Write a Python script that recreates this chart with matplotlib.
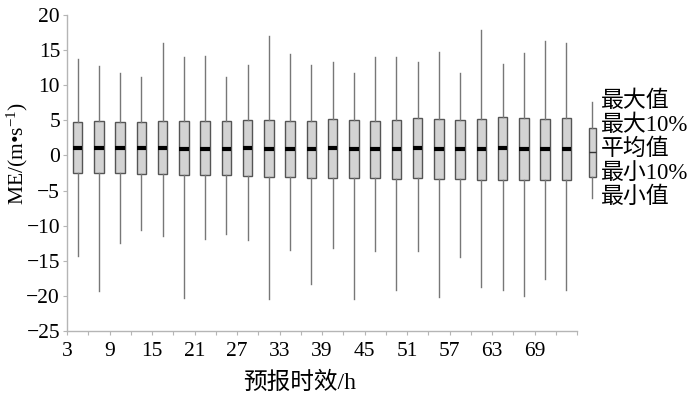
import matplotlib
matplotlib.use("Agg")
import matplotlib.pyplot as plt
import numpy as np

# ---- data ----
lead_hours = [3, 6, 9, 12, 15, 18, 21, 24, 27, 30, 33, 36, 39, 42, 45, 48, 51, 54, 57, 60, 63, 66, 69, 72]
tick_labels = ["3", "9", "15", "21", "27", "33", "39", "45", "51", "57", "63", "69"]
max_vals = [13.8, 12.7, 11.8, 11.1, 16.0, 14.0, 14.1, 11.1, 12.9, 17.0, 14.5, 12.9,
            13.3, 11.7, 14.0, 14.0, 13.3, 14.7, 11.8, 17.8, 13.0, 14.6, 16.3, 16.0]
top10_vals = [4.7, 4.85, 4.7, 4.7, 4.9, 4.85, 4.85, 4.85, 5.0, 5.0, 4.85, 4.85,
              5.15, 5.05, 4.9, 5.0, 5.3, 5.25, 5.0, 5.15, 5.45, 5.35, 5.2, 5.3]
mean_vals = [1.05, 1.05, 1.05, 1.0, 1.1, 0.95, 0.95, 0.95, 1.1, 0.9, 0.9, 0.85,
             1.05, 0.95, 0.95, 0.95, 1.05, 0.95, 0.9, 0.95, 1.05, 0.95, 0.95, 0.95]
bot10_vals = [-2.55, -2.55, -2.55, -2.6, -2.7, -2.75, -2.75, -2.85, -2.9, -3.05, -3.05, -3.2,
              -3.15, -3.25, -3.2, -3.3, -3.25, -3.4, -3.4, -3.45, -3.45, -3.55, -3.55, -3.55]
min_vals = [-14.3, -19.3, -12.5, -10.6, -11.5, -20.3, -11.9, -11.2, -12.1, -20.4, -13.5, -18.3,
            -13.2, -20.4, -13.6, -19.1, -13.6, -20.2, -14.5, -18.8, -19.1, -20.0, -17.6, -19.2]
legend_labels = ["最大值", "最大10%", "平均值", "最小10%", "最小值"]
legend_glyph = dict(whishi=98.3, q3=71.7, med=48.3, q1=23.3, whislo=1.7)

fam = ["Liberation Serif", "Noto Sans CJK SC"]
plt.rcParams["font.family"] = fam
plt.rcParams["mathtext.fontset"] = "custom"
plt.rcParams["mathtext.rm"] = "Liberation Serif"
plt.rcParams["mathtext.it"] = "Liberation Serif:italic"

W, H = 700, 401
fig = plt.figure(figsize=(7.0, 4.01), dpi=100)
ax = fig.add_axes([67 / W, 1 - 331 / H, 510 / W, 316 / H])

stats = []
for lo, q1, m, q3, hi in zip(min_vals, bot10_vals, mean_vals, top10_vals, max_vals):
    stats.append(dict(whislo=lo, q1=q1, med=m, q3=q3, whishi=hi, fliers=[]))
positions = np.arange(len(lead_hours)) + 0.5

gray_box = "#d3d3d3"
edge = "#555555"
whisk = "#777777"
ax.bxp(stats, positions=positions, widths=0.45, patch_artist=True, showcaps=False,
       showfliers=False,
       boxprops=dict(facecolor=gray_box, edgecolor=edge, linewidth=1.0),
       whiskerprops=dict(color=whisk, linewidth=1.0),
       medianprops=dict(color="black", linewidth=3.0, solid_capstyle="butt"))

ax.set_xlim(0, len(lead_hours))
ax.set_ylim(-25, 20)
ax.set_yticks(np.arange(-25, 21, 5))
xt = np.arange(0, len(lead_hours) + 1)
ax.set_xticks(xt)
labs = []
for i in xt:
    if i % 2 == 0 and i // 2 < len(tick_labels):
        labs.append(tick_labels[i // 2])
    else:
        labs.append("")
ax.set_xticklabels(labs)

for s in ["top", "right"]:
    ax.spines[s].set_visible(False)
for s in ["left", "bottom"]:
    ax.spines[s].set_color("#b5b5b5")
    ax.spines[s].set_linewidth(1.0)
ax.tick_params(axis="both", direction="out", length=3, width=0.8, color="#b5b5b5",
               labelsize=15.5, labelcolor="black")
ax.tick_params(axis="y", pad=2)
ax.tick_params(axis="x", pad=5)

ax.set_ylabel("ME/(m\u2022s$^{-1}$)", fontsize=15.5)
ax.yaxis.set_label_coords(-(67 - 17) / 510, (331 - 154) / 316)
ax.yaxis.label.set_va("center")
ax.set_xlabel("预报时效/h", fontsize=17)
ax.xaxis.set_label_coords((300 - 67) / 510, -(383 - 331) / 316)
ax.xaxis.label.set_va("center")

# legend glyph
lax = fig.add_axes([585 / W, 1 - 200 / H, 14 / W, 100 / H])
lax.bxp([dict(fliers=[], **legend_glyph)], positions=[0.5], widths=0.5, patch_artist=True,
        showcaps=False, showfliers=False,
        boxprops=dict(facecolor=gray_box, edgecolor=edge, linewidth=1.0),
        whiskerprops=dict(color=whisk, linewidth=1.0),
        medianprops=dict(color="#333333", linewidth=1.0))
lax.set_xlim(0, 1)
lax.set_ylim(0, 100)
lax.axis("off")

ys = [100.8, 125.0, 149.2, 173.4, 197.6]
for lab, y in zip(legend_labels, ys):
    fig.text(601 / W, 1 - y / H, lab, fontsize=16.5, va="center", ha="left", family=fam)

fig.savefig("out.png", dpi=100)
